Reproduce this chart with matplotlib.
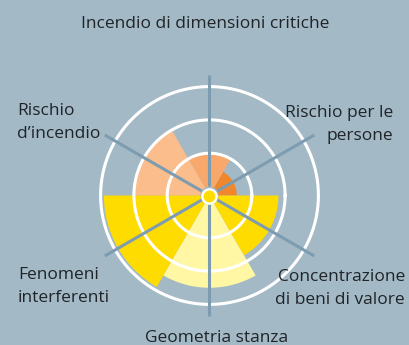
import numpy as np
import matplotlib
matplotlib.use("Agg")
import matplotlib.pyplot as plt

plt.rcParams['font.family'] = ['Open Sans', 'DejaVu Sans']

# categories, counter-clockwise from the upper right
categories = ["Rischio per le\npersone", "Incendio di dimensioni critiche",
              "Rischio\nd\u2019incendio", "Fenomeni\ninterferenti",
              "Geometria stanza", "Concentrazione\ndi beni di valore"]
angles_deg = [30, 90, 150, 210, 270, 330]
values = [0.55, 1.0, 2.0, 2.9, 2.5, 1.8]
rings = [1, 2, 3]
colors = ['#f0872c', '#f7a86a', '#fbbd8c', '#ffdc00', '#fff7a3', '#ffdc00']

bg = '#a3b9c6'
line_col = '#7e9cb0'
txt_col = '#1f2428'

W, H = 410, 345
fig = plt.figure(figsize=(W / 100, H / 100), dpi=100, facecolor=bg)

cx, cy, R = 209.5, 195.5, 125
ax = fig.add_axes([(cx - R) / W, 1 - (cy + R) / H, 2 * R / W, 2 * R / H],
                  projection='polar')
ax.set_facecolor(bg)
rorig = -0.27
ax.set_ylim(0, 3.483)
ax.set_rorigin(rorig)
ax.set_axis_off()

theta = np.deg2rad(angles_deg)
ax.bar(theta, np.array(values) - rorig, width=np.pi / 3, bottom=rorig,
       color=colors, edgecolor='none', zorder=1)

tt = np.linspace(0, 2 * np.pi, 400)
for r in rings:
    ax.plot(tt, np.full_like(tt, r), color='white', lw=2.2, zorder=2)

for t in theta:
    ax.plot([t, t], [rorig, 3.36], color=line_col, lw=2.2, zorder=3,
            solid_capstyle='butt')

ax.scatter([0.5], [0.5], s=105, color='#ffdc00', edgecolor='white',
           linewidth=1.7, transform=ax.transAxes, zorder=5, clip_on=False)

fs = 12.5
def put(x, y, s, ha):
    # y is the baseline of the last line
    fig.text(x / W, 1 - y / H, s, ha=ha, va='baseline', fontsize=fs,
             color=txt_col, linespacing=1.55, multialignment=ha)

put(205, 28, categories[1], 'center')
put(393, 140, categories[0], 'right')
put(17, 138, categories[2], 'left')
put(18, 302, categories[3], 'left')
put(217, 342, categories[4], 'center')
put(405, 304, categories[5], 'right')

fig.savefig('out.png', dpi=100, facecolor=bg)
